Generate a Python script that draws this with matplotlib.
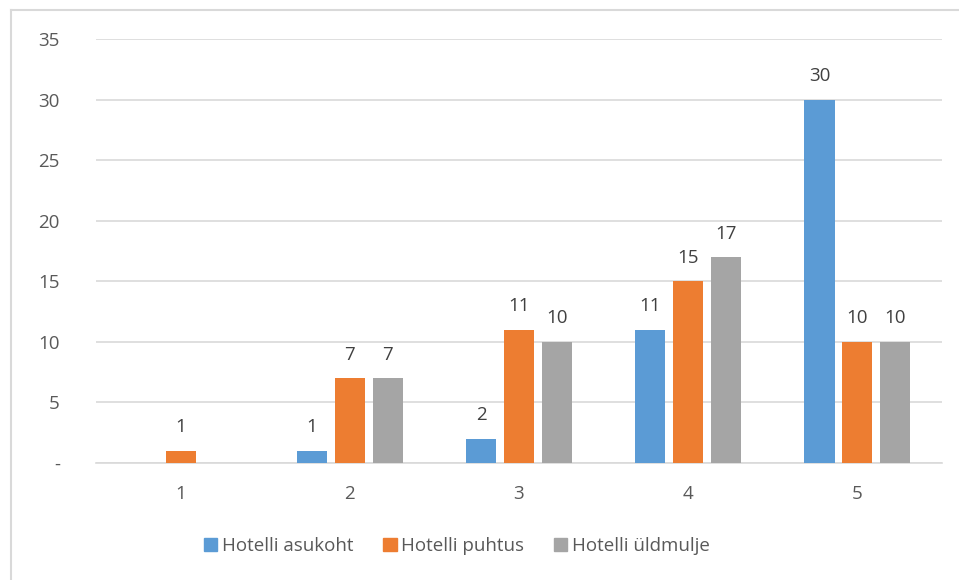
import matplotlib
matplotlib.use("Agg")
import matplotlib.pyplot as plt
from matplotlib.lines import Line2D
import numpy as np

categories = ["1", "2", "3", "4", "5"]
series_names = ["Hotelli asukoht", "Hotelli puhtus", "Hotelli üldmulje"]
asukoht = [0, 1, 2, 11, 30]
puhtus = [1, 7, 11, 15, 10]
yldmulje = [0, 7, 10, 17, 10]
yticks = [0, 5, 10, 15, 20, 25, 30, 35]
ytick_labels = ["-", "5", "10", "15", "20", "25", "30", "35"]
colors = ["#5B9BD5", "#ED7D31", "#A5A5A5"]

plt.rcParams['font.family'] = ['Open Sans', 'DejaVu Sans']
W, H = 959, 580
fig = plt.figure(figsize=(W / 100, H / 100), dpi=100)
ax = fig.add_axes([96 / W, (H - 463) / H, (942 - 96) / W, (463 - 39) / H])

fs = 13.5
x = np.arange(len(categories))
bw = 0.178
step = 0.224
text_color = "#595959"
for i, (vals, name, c) in enumerate(zip([asukoht, puhtus, yldmulje], series_names, colors)):
    pos = x + (i - 1) * step
    ax.bar(pos, vals, width=bw, color=c, label=name, zorder=3)
    for p, v in zip(pos, vals):
        if v:
            ax.text(p, v + 1.2, str(v), ha="center", va="bottom", fontsize=fs, color="#404040")

ax.set_xlim(-0.5, len(categories) - 0.5)
ax.set_ylim(0, 35)
ax.set_yticks(yticks)
ax.set_yticklabels(ytick_labels, fontsize=fs, color=text_color)
ax.set_xticks(x)
ax.set_xticklabels(categories, fontsize=fs, color=text_color)
ax.tick_params(axis="both", length=0)
ax.tick_params(axis="y", pad=26)
ax.tick_params(axis="x", pad=16)
ax.yaxis.grid(True, color="#D9D9D9", linewidth=1.2, zorder=0)
ax.set_axisbelow(True)
for s in ["left", "right", "top"]:
    ax.spines[s].set_visible(False)
ax.spines["bottom"].set_color("#D9D9D9")
ax.spines["bottom"].set_linewidth(1.2)

handles = [plt.Rectangle((0, 0), 1, 1, color=c) for c in colors]
leg = fig.legend(handles, series_names, loc="center", bbox_to_anchor=(457 / W, (H - 546) / H),
                 ncol=3, frameon=False, fontsize=fs, handlelength=0.7, handleheight=0.7,
                 handletextpad=0.25, columnspacing=1.6)
for t in leg.get_texts():
    t.set_color(text_color)

# outer chart border (left and top visible)
fig.add_artist(Line2D([10.5 / W, 10.5 / W], [0, (H - 10) / H], color="#D9D9D9", linewidth=1.5, transform=fig.transFigure))
fig.add_artist(Line2D([10.5 / W, 1], [(H - 10) / H, (H - 10) / H], color="#D9D9D9", linewidth=1.5, transform=fig.transFigure))

fig.savefig("out.png", dpi=100, facecolor="white")
